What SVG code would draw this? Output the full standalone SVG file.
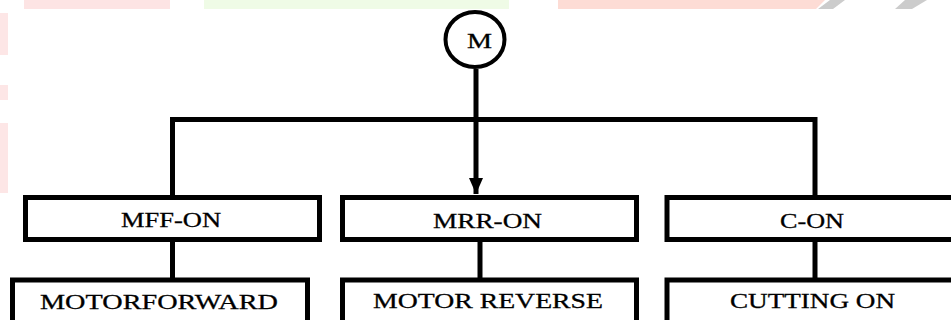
<svg xmlns="http://www.w3.org/2000/svg" width="951" height="320" viewBox="0 0 951 320">
<style>
.box{fill:#ffffff;stroke:#000000;stroke-width:5;}
.ln{fill:none;stroke:#000000;stroke-width:5;stroke-linejoin:miter;stroke-linecap:butt;}
.lbl{font-family:"Liberation Serif","Times New Roman",serif;font-size:22px;fill:#000000;stroke:#000000;stroke-width:0.3;}
</style>
<defs>
<marker id="arr" markerUnits="userSpaceOnUse" markerWidth="16" markerHeight="14" refX="16" refY="7" orient="auto">
<path d="M0,0 L16,7 L0,14 Z" fill="#000000"/>
</marker>
</defs>
<rect x="0" y="0" width="951" height="320" fill="#ffffff"/>
<g id="watermark">
<rect x="24" y="0" width="146" height="9" fill="#fde4e4"/>
<rect x="204" y="0" width="305" height="9" fill="#effbe6"/>
<path d="M558,0 H825 L816,9 H558 Z" fill="#fddcd5"/>
<path d="M830,0 H845 L833,9 H818 Z" fill="#cccccc"/>
<path d="M905,0 H927 L912,9 H895 Z" fill="#cccccc"/>
<rect x="0" y="13" width="8" height="42" fill="#fde6e6"/>
<rect x="0" y="85" width="8" height="15" fill="#fde6e6"/>
<rect x="0" y="123" width="8" height="70" fill="#fde6e6"/>
</g>
<g id="connectors">
<line class="ln" x1="476" y1="69" x2="476" y2="194" stroke-width="4" marker-end="url(#arr)"/>
<path class="ln" d="M172.5,195 V119.5 H815 V195"/>
<line class="ln" x1="172.5" y1="242" x2="172.5" y2="278"/>
<line class="ln" x1="480" y1="242" x2="480" y2="278"/>
<line class="ln" x1="815" y1="242" x2="815" y2="278"/>
</g>
<g id="node-M">
<ellipse cx="475" cy="39.5" rx="29.5" ry="27.5" fill="#ffffff" stroke="#000000" stroke-width="4"/>
<text class="lbl" x="467" y="48" font-size="23" textLength="25" lengthAdjust="spacingAndGlyphs">M</text>
</g>
<g id="node-mff-on">
<rect class="box" x="25.5" y="197.5" width="294" height="42"/>
<text class="lbl" x="121" y="227" textLength="100" lengthAdjust="spacingAndGlyphs">MFF-ON</text>
</g>
<g id="node-mrr-on">
<rect class="box" x="342.5" y="197.5" width="294" height="42"/>
<text class="lbl" x="433" y="228" textLength="109" lengthAdjust="spacingAndGlyphs">MRR-ON</text>
</g>
<g id="node-c-on">
<rect class="box" x="667" y="197.5" width="300" height="42"/>
<text class="lbl" x="780" y="228" textLength="64" lengthAdjust="spacingAndGlyphs">C-ON</text>
</g>
<g id="node-motorforward">
<rect class="box" x="12.5" y="280" width="295" height="60"/>
<text class="lbl" x="40" y="309" textLength="238" lengthAdjust="spacingAndGlyphs">MOTORFORWARD</text>
</g>
<g id="node-motor-reverse">
<rect class="box" x="342.5" y="280" width="294" height="60"/>
<text class="lbl" x="373" y="308" textLength="230" lengthAdjust="spacingAndGlyphs">MOTOR REVERSE</text>
</g>
<g id="node-cutting-on">
<rect class="box" x="667" y="280" width="300" height="60"/>
<text class="lbl" x="730" y="308" textLength="165" lengthAdjust="spacingAndGlyphs">CUTTING ON</text>
</g>
</svg>
